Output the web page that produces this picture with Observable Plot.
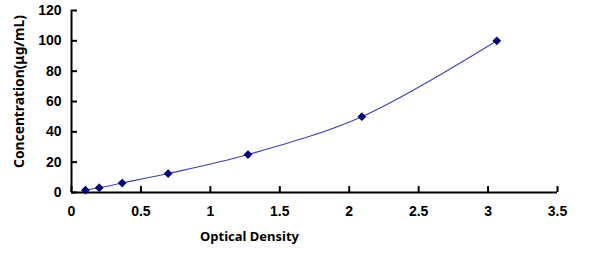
<!DOCTYPE html>
<html>
<head>
<meta charset="utf-8">
<script src="https://cdn.jsdelivr.net/npm/d3@7"></script>
<script src="https://cdn.jsdelivr.net/npm/@observablehq/plot@0.6"></script>
<style>
  html, body { margin: 0; padding: 0; background: #fff; }
  #chart svg { display: block; }
</style>
</head>
<body>
<div id="chart"></div>
<script>
// Standard curve: optical density vs. concentration
const opticalDensity = [0.100, 0.200, 0.365, 0.696, 1.271, 2.091, 3.063];
const concentration = [1.5625, 3.125, 6.25, 12.5, 25, 50, 100];
const xTicks = [0, 0.5, 1, 1.5, 2, 2.5, 3, 3.5];
const yTicks = [0, 20, 40, 60, 80, 100, 120];
const xTitle = "Optical Density";
const yTitle = "Concentration(μg/mL)";

const points = opticalDensity.map((od, i) => ({od, conc: concentration[i]}));

const tickFont = {fontFamily: "Liberation Sans, Arial, sans-serif", fontWeight: "bold", fontSize: 14, fill: "#000"};
const titleFont = {fontFamily: "Noto Sans, sans-serif", fontWeight: "bold", fill: "#000"};

const chart = Plot.plot({
  width: 600,
  height: 260,
  marginLeft: 71,
  marginRight: 43,
  marginTop: 10,
  marginBottom: 68,
  style: {background: "#fff", overflow: "visible"},
  x: {domain: [0, 3.5]},
  y: {domain: [0, 120]},
  marks: [
    Plot.axisX({ticks: xTicks, tickFormat: d => String(d), tickSize: -6, tickPadding: 20, stroke: "#000", strokeWidth: 2, label: null, ...tickFont}),
    Plot.axisY({ticks: yTicks, tickFormat: d => String(d), tickSize: -6, tickPadding: 16, stroke: "#000", strokeWidth: 2, label: null, ...tickFont}),
    Plot.ruleY([0], {stroke: "#000", strokeWidth: 2}),
    Plot.ruleX([0], {stroke: "#000", strokeWidth: 2}),
    Plot.line(points, {x: "od", y: "conc", curve: "catmull-rom", stroke: "#4040b8", strokeWidth: 1.1}),
    Plot.dot(points, {x: "od", y: "conc", symbol: "diamond2", fill: "#00007a", stroke: "#00007a", r: 3}),
    Plot.text([xTitle], {frameAnchor: "bottom", dx: -65, dy: 48, fontSize: 13, ...titleFont}),
    Plot.text([yTitle], {frameAnchor: "left", textAnchor: "middle", dx: -52, dy: -10, rotate: -90, fontSize: 13.8, ...titleFont})
  ]
});
document.getElementById("chart").appendChild(chart);
</script>
</body>
</html>
